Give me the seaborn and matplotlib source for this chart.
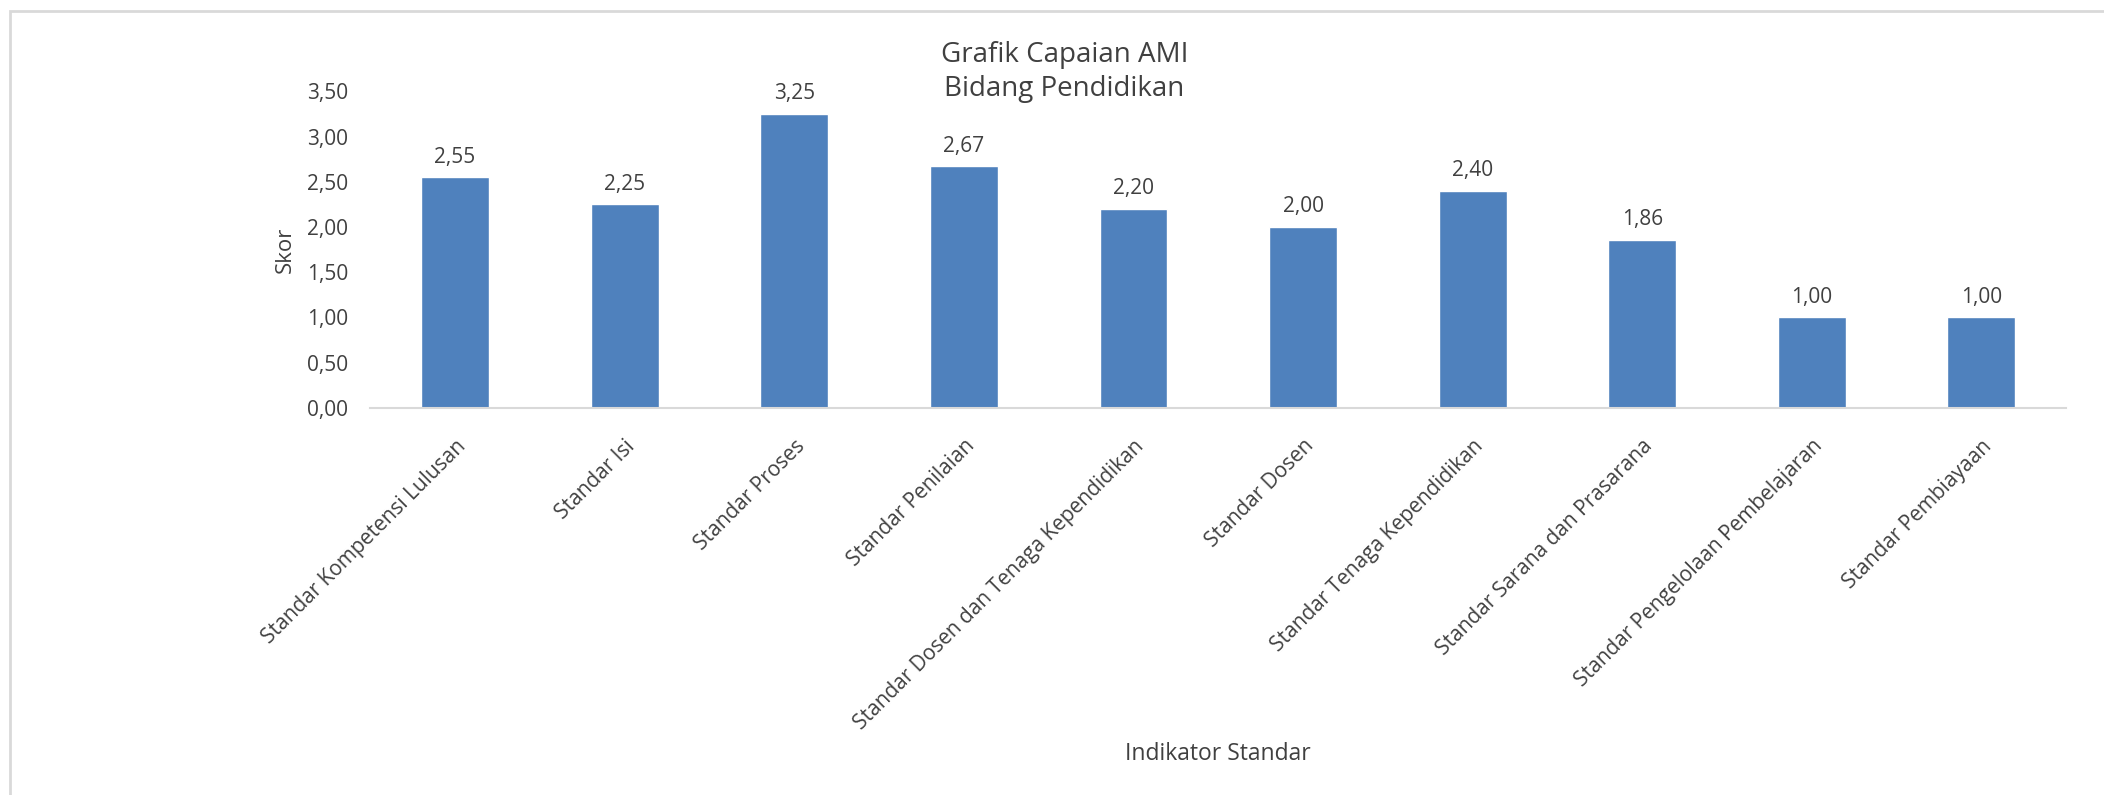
import matplotlib
matplotlib.use("Agg")
import matplotlib.pyplot as plt
from matplotlib.patches import Rectangle
from matplotlib.ticker import FuncFormatter
import seaborn as sns
import pandas as pd

# Data
categories = [
    "Standar Kompetensi Lulusan",
    "Standar Isi",
    "Standar Proses",
    "Standar Penilaian",
    "Standar Dosen dan Tenaga Kependidikan",
    "Standar Dosen",
    "Standar Tenaga Kependidikan",
    "Standar Sarana dan Prasarana",
    "Standar Pengelolaan Pembelajaran",
    "Standar Pembiayaan",
]
scores = [2.55, 2.25, 3.25, 2.67, 2.20, 2.00, 2.40, 1.86, 1.00, 1.00]
y_ticks = [0.0, 0.5, 1.0, 1.5, 2.0, 2.5, 3.0, 3.5]

title_text = "Grafik Capaian AMI\nBidang Pendidikan"
x_label = "Indikator Standar"
y_label = "Skor"

BAR_COLOR = "#4F81BD"
TEXT_COLOR = "#404040"
LINE_COLOR = "#D9D9D9"

sns.set_style("white")
plt.rcParams["font.family"] = ["Open Sans", "DejaVu Sans"]

df = pd.DataFrame({"Indikator": categories, "Skor": scores})


def comma_fmt(v, pos=None):
    return f"{v:.2f}".replace(".", ",")


fig = plt.figure(figsize=(21.04, 7.95), dpi=100)
ax = fig.add_axes([0.176, 0.487, 0.806, 0.398])

sns.barplot(data=df, x="Indikator", y="Skor", color=BAR_COLOR, width=0.4,
            saturation=1, ax=ax)

# Value labels on top of bars
ax.bar_label(ax.containers[0], fmt=comma_fmt, padding=7,
             fontsize=15, color=TEXT_COLOR)

ax.set_ylim(0, 3.5)
ax.set_yticks(y_ticks)
ax.yaxis.set_major_formatter(FuncFormatter(comma_fmt))
ax.set_xlim(-0.5, len(categories) - 0.5)

ax.tick_params(axis="y", length=0, labelsize=15, labelcolor=TEXT_COLOR, pad=16)
ax.tick_params(axis="x", length=0, labelsize=15, labelcolor=TEXT_COLOR, pad=20)
plt.setp(ax.get_xticklabels(), rotation=45, ha="right", rotation_mode="anchor")

for side in ["left", "right", "top"]:
    ax.spines[side].set_visible(False)
ax.spines["bottom"].set_color(LINE_COLOR)
ax.spines["bottom"].set_linewidth(1.5)

ax.set_ylabel(y_label, fontsize=16, color=TEXT_COLOR, labelpad=8)
ax.set_xlabel("")
fig.text(0.579, 1 - 754 / 795, x_label, fontsize=16.5, color=TEXT_COLOR,
         ha="center", va="center")

fig.text(0.506, 1 - 72 / 795, title_text, fontsize=20, color=TEXT_COLOR,
         ha="center", va="center", linespacing=1.25)

# Chart area border
fig.patches.append(Rectangle((10 / 2104, -0.1), 1.2, 1.1 - 11 / 795,
                             transform=fig.transFigure, fill=False,
                             edgecolor=LINE_COLOR, linewidth=2))

fig.savefig("out.png", dpi=100)
